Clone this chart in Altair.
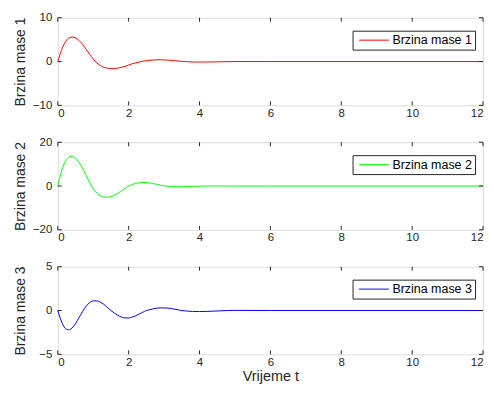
import altair as alt
import pandas as pd

t1 = [0, 0.1, 0.2, 0.3, 0.4, 0.5, 0.6, 0.7, 0.8, 0.9, 1.0, 1.1, 1.2, 1.3, 1.4, 1.5, 1.6, 1.7, 1.8, 1.9,
      2.0, 2.1, 2.2, 2.3, 2.4, 2.5, 2.6, 2.7, 2.8, 2.9, 3.0, 3.1, 3.2, 3.3, 3.4, 3.5, 3.6, 3.7, 3.8, 3.9,
      4.0, 4.2, 4.4, 4.6, 4.8, 5.0, 6.0, 12.0]
v1 = [0, 2.5, 4.3, 5.3, 5.6, 5.4, 4.8, 3.9, 2.8, 1.7, 0.6, -0.3, -0.9, -1.3, -1.5, -1.6, -1.6, -1.5, -1.3, -1.1,
      -0.8, -0.5, -0.3, -0.1, 0.1, 0.2, 0.3, 0.35, 0.4, 0.4, 0.38, 0.33, 0.27, 0.2, 0.12, 0.05, 0.0, -0.05, -0.08, -0.1,
      -0.1, -0.1, -0.08, -0.05, -0.02, 0, 0, 0]

t2 = [0, 0.1, 0.2, 0.3, 0.4, 0.5, 0.6, 0.7, 0.8, 0.9, 1.0, 1.1, 1.2, 1.3, 1.4, 1.5, 1.6, 1.7, 1.8, 1.9,
      2.0, 2.1, 2.2, 2.3, 2.4, 2.5, 2.6, 2.7, 2.8, 2.9, 3.0, 3.1, 3.2, 3.3, 3.4, 3.5, 3.6, 3.8,
      4.0, 4.2, 4.4, 4.6, 4.8, 5.0, 6.0, 12.0]
v2 = [0, 6.5, 10.8, 13.0, 13.6, 12.8, 10.8, 8.0, 4.8, 1.6, -1.2, -3.2, -4.4, -5.0, -5.1, -4.8, -4.1, -3.2, -2.1, -1.0,
      0, 0.7, 1.2, 1.5, 1.6, 1.6, 1.4, 1.1, 0.8, 0.4, 0.1, -0.1, -0.25, -0.3, -0.35, -0.3, -0.25, -0.15,
      -0.05, 0.02, 0.05, 0.05, 0.03, 0, 0, 0]

t3 = [0, 0.1, 0.2, 0.3, 0.4, 0.5, 0.6, 0.7, 0.8, 0.9, 1.0, 1.1, 1.2, 1.3, 1.4, 1.5, 1.6, 1.7, 1.8, 1.9,
      2.0, 2.1, 2.2, 2.3, 2.4, 2.5, 2.6, 2.7, 2.8, 2.9, 3.0, 3.1, 3.2, 3.3, 3.4, 3.5, 3.6, 3.8,
      4.0, 4.2, 4.4, 4.6, 4.8, 5.0, 6.0, 12.0]
v3 = [0, -1.2, -2.0, -2.2, -2.0, -1.5, -0.8, -0.1, 0.5, 0.9, 1.1, 1.1, 0.95, 0.7, 0.35, 0.0, -0.3, -0.55, -0.75, -0.85,
      -0.85, -0.75, -0.6, -0.4, -0.2, 0.0, 0.1, 0.2, 0.27, 0.3, 0.3, 0.28, 0.22, 0.15, 0.07, 0.0, -0.05, -0.1,
      -0.12, -0.1, -0.07, -0.03, 0, 0.02, 0, 0]

names = ["Brzina mase 1", "Brzina mase 2", "Brzina mase 3"]
colors = ["#ff0000", "#00ff00", "#0000ff"]
ylims = [(-10, 10), (-20, 20), (-5, 5)]
yticks = [[-10, 0, 10], [-20, 0, 20], [-5, 0, 5]]
xticks = [0, 2, 4, 6, 8, 10, 12]

W, H = 427, 88
AX = "#262626"
FONT = "Liberation Sans"


def panel(t, v, name, color, ylim, ytk, last):
    df = pd.DataFrame({"t": t, "v": v, "s": name})
    xs = alt.Scale(domain=[0, 12], nice=False)
    ys = alt.Scale(domain=list(ylim), nice=False)
    xkw = dict(title="Vrijeme t", titleY=22, titleBaseline="middle") if last else dict(title=None)
    xax = alt.Axis(values=xticks, grid=False, tickSize=0, labelPadding=2, domain=False,
                   labelFontSize=11.5, titleFontSize=14.5,
                   titleFontWeight="normal", labelColor=AX, titleColor=AX, labelFont=FONT,
                   titleFont=FONT, **xkw)
    yax = alt.Axis(values=ytk, grid=False, tickSize=0, labelPadding=6, domain=False,
                   title=name, labelFontSize=11.5, titleFontSize=14, titleFontWeight="normal",
                   labelColor=AX, titleColor=AX, labelFont=FONT, titleFont=FONT,
                   titleX=-37, titleY=H / 2, titleBaseline="middle", titleAngle=270)
    line = alt.Chart(df).mark_line(strokeWidth=1, interpolate="monotone").encode(
        x=alt.X("t:Q", scale=xs, axis=xax),
        y=alt.Y("v:Q", scale=ys, axis=yax),
        color=alt.Color("s:N", scale=alt.Scale(domain=[name], range=[color]),
                        legend=alt.Legend(title=None, orient="none", legendX=296, legendY=13,
                                          symbolType="M-2.5,0H2.5", symbolSize=144,
                                          symbolStrokeWidth=1, symbolOffset=12,
                                          strokeColor=AX, fillColor="white", padding=3,
                                          labelOffset=12, labelFontSize=12.5, labelFont=FONT,
                                          labelColor="#000000")),
    )
    xt = pd.DataFrame({"x": xticks})
    yt = pd.DataFrame({"y": ytk})
    tb = alt.Chart(xt).mark_rule(color=AX, strokeWidth=1).encode(
        x=alt.X("x:Q", scale=xs), y=alt.value(H), y2=alt.value(H - 4))
    tt = alt.Chart(xt).mark_rule(color=AX, strokeWidth=1).encode(
        x=alt.X("x:Q", scale=xs), y=alt.value(0), y2=alt.value(4))
    tl = alt.Chart(yt).mark_rule(color=AX, strokeWidth=1).encode(
        y=alt.Y("y:Q", scale=ys), x=alt.value(0), x2=alt.value(4))
    tr = alt.Chart(yt).mark_rule(color=AX, strokeWidth=1).encode(
        y=alt.Y("y:Q", scale=ys), x=alt.value(W), x2=alt.value(W - 4))
    return alt.layer(line, tb, tt, tl, tr).properties(width=W, height=H)


panels = [
    panel(t1, v1, names[0], colors[0], ylims[0], yticks[0], False),
    panel(t2, v2, names[1], colors[1], ylims[1], yticks[1], False),
    panel(t3, v3, names[2], colors[2], ylims[2], yticks[2], True),
]

chart = alt.vconcat(*panels, spacing=16).resolve_scale(color="independent").configure_view(
    stroke=AX, strokeWidth=1
).configure(background="white", padding={"left": 5, "top": 2, "right": 0, "bottom": 0})

chart.save("out.html", embed_options={"renderer": "svg", "actions": False})
